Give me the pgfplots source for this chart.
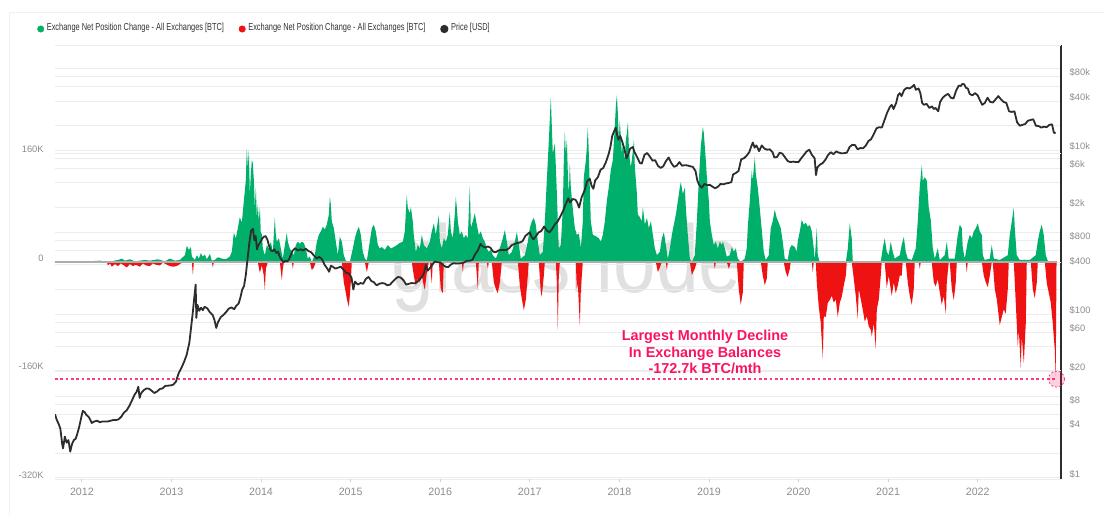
\documentclass[border=0pt]{standalone}
\usepackage{pgfplots}
\pgfplotsset{compat=1.18}
\usepackage{fontspec}
\setmainfont{Liberation Sans}
\newfontfamily\legfont[FakeStretch=0.73]{Liberation Sans}
\definecolor{gngreen}{RGB}{0,176,106}
\definecolor{gnred}{RGB}{238,18,18}
\definecolor{annot}{RGB}{250,20,95}
\definecolor{annotl}{RGB}{250,60,120}
\definecolor{pricec}{RGB}{45,45,45}
\definecolor{gridc}{RGB}{236,236,236}
\definecolor{tickc}{RGB}{140,140,140}
\definecolor{legc}{RGB}{50,50,50}
\definecolor{wmark}{RGB}{224,224,224}
\begin{document}
\begin{tikzpicture}
\path[use as bounding box] (0,0) rectangle (828pt,386.25pt);
\draw[color=gray!12, line width=0.75pt] (6.75pt,0) -- (6.75pt,376.5pt) -- (828pt,376.5pt);
\node[anchor=base, text=wmark, inner sep=0pt] at (425pt,167.25pt) {\scalebox{0.8}[1]{\fontsize{72}{72}\selectfont glassnode}};

% Right price axis: grid and labels
\begin{axis}[
  at={(41.25pt,27pt)}, anchor=south west, scale only axis,
  width=754.5pt, height=325.5pt,
  xmin=2011.70, xmax=2022.93, ymode=log, ymin=0.972, ymax=193600,
  axis x line=none, axis y line*=right,
  y axis line style={draw=pricec, line width=1.1pt},
  ytick={1,2,4,6,8,10,20,40,60,80,100,200,400,600,800,1000,2000,4000,6000,8000,10000,20000,40000,60000,80000,100000},
  yticklabels={\$1,,\$4,,\$8,,\$20,,\$60,,\$100,,\$400,,\$800,,\$2k,,\$6k,,\$10k,,\$40k,,\$80k,},
  ymajorgrids, major grid style={draw=gridc, line width=0.75pt},
  ytick style={draw=none}, minor tick length=0pt, major tick length=0pt,
  yticklabel style={font=\fontsize{7}{8}\selectfont, text=tickc, anchor=west, xshift=3pt, yshift=3pt},
]
\addplot[draw=none] coordinates {(2012,10)};
\end{axis}

% Left axis: net position change
\begin{axis}[
  at={(41.25pt,27pt)}, anchor=south west, scale only axis,
  width=754.5pt, height=325.5pt,
  xmin=2011.70, xmax=2022.93, ymin=-320, ymax=320,
  axis line style={draw=none},
  ytick={-320,-160,0,160,320}, yticklabels={-320K,-160K,0,160K,{}},
  xtick={2012,2013,2014,2015,2016,2017,2018,2019,2020,2021,2022},
  xticklabels={2012,2013,2014,2015,2016,2017,2018,2019,2020,2021,2022},
  xtick pos=bottom, ytick pos=left,
  ymajorgrids, major grid style={draw=gridc, line width=0.75pt},
  ytick style={draw=none},
  xtick style={draw=gray!35, line width=0.6pt}, tick align=outside, major tick length=2.5pt,
  yticklabel style={font=\fontsize{7}{8}\selectfont, text=tickc, xshift=-2.5pt, yshift=3pt},
  xticklabel style={font=\fontsize{8}{9}\selectfont, text=tickc, yshift=-1pt},
  clip=false,
]
\addplot[fill=gngreen, draw=none] table {
x y
2011.699 1
2011.866 0.5
2012.089 1
2012.201 2
2012.290 0
2012.402 3
2012.447 5
2012.480 2
2012.536 4
2012.592 1
2012.703 3
2012.759 2
2012.848 4
2012.927 1
2012.982 5
2013.038 2
2013.094 3
2013.150 10
2013.172 24
2013.194 18
2013.217 22
2013.228 8
2013.261 3
2013.284 10
2013.306 5
2013.328 13
2013.350 8
2013.373 11
2013.395 4
2013.429 12
2013.451 2
2013.484 3
2013.518 7
2013.562 5
2013.607 4
2013.652 8
2013.674 15
2013.696 43
2013.719 35
2013.741 50
2013.763 66
2013.786 58
2013.808 90
2013.830 120
2013.841 167
2013.853 140
2013.864 165
2013.875 100
2013.886 130
2013.897 150
2013.908 146
2013.920 120
2013.931 80
2013.942 110
2013.953 66
2013.964 85
2013.975 60
2013.987 81
2013.998 40
2014.009 43
2014.020 20
2014.042 10
2014.065 25
2014.087 20
2014.109 30
2014.132 15
2014.154 66
2014.165 40
2014.176 30
2014.199 35
2014.221 20
2014.243 5
2014.266 25
2014.288 43
2014.299 30
2014.321 20
2014.344 15
2014.366 10
2014.388 25
2014.411 30
2014.433 27
2014.455 30
2014.478 28
2014.500 20
2014.522 5
2014.545 8
2014.567 0
2014.600 10
2014.623 30
2014.645 40
2014.667 45
2014.690 52
2014.712 48
2014.734 55
2014.757 70
2014.768 96
2014.779 85
2014.790 60
2014.812 50
2014.835 30
2014.857 10
2014.879 37
2014.902 30
2014.924 10
2014.946 2
2014.991 0
2015.025 20
2015.047 35
2015.069 45
2015.092 52
2015.114 40
2015.136 15
2015.159 5
2015.181 2
2015.214 30
2015.237 50
2015.259 55
2015.281 45
2015.304 25
2015.326 20
2015.348 22
2015.382 18
2015.415 25
2015.449 20
2015.482 22
2015.516 25
2015.549 28
2015.583 30
2015.605 45
2015.627 99
2015.638 80
2015.661 72
2015.672 81
2015.694 60
2015.705 40
2015.728 15
2015.750 25
2015.772 20
2015.795 40
2015.817 25
2015.851 20
2015.884 30
2015.906 45
2015.929 57
2015.951 40
2015.962 50
2015.985 69
2015.996 30
2016.018 20
2016.040 35
2016.063 30
2016.085 40
2016.107 74
2016.119 45
2016.141 35
2016.163 70
2016.174 96
2016.186 80
2016.197 60
2016.219 40
2016.241 45
2016.264 35
2016.286 40
2016.308 35
2016.331 113
2016.342 50
2016.364 60
2016.386 72
2016.409 55
2016.431 40
2016.453 45
2016.476 35
2016.498 30
2016.520 20
2016.543 15
2016.565 18
2016.587 10
2016.621 5
2016.666 20
2016.699 35
2016.721 47
2016.744 30
2016.766 10
2016.800 15
2016.833 30
2016.856 44
2016.878 25
2016.900 5
2016.945 10
2016.978 30
2017.000 50
2017.023 60
2017.045 65
2017.067 55
2017.090 30
2017.112 10
2017.146 15
2017.168 60
2017.190 120
2017.213 180
2017.235 243
2017.246 200
2017.257 160
2017.280 175
2017.291 140
2017.302 102
2017.313 60
2017.324 20
2017.347 25
2017.369 80
2017.380 150
2017.391 192
2017.402 160
2017.414 180
2017.425 130
2017.436 100
2017.447 146
2017.458 110
2017.481 77
2017.503 50
2017.525 40
2017.548 42
2017.570 20
2017.592 60
2017.603 125
2017.626 150
2017.637 170
2017.648 199
2017.659 160
2017.670 110
2017.681 60
2017.704 40
2017.737 38
2017.771 35
2017.793 30
2017.815 40
2017.838 60
2017.860 90
2017.882 110
2017.905 136
2017.927 150
2017.949 200
2017.961 230
2017.972 246
2017.983 220
2017.994 180
2018.005 209
2018.016 185
2018.028 160
2018.039 175
2018.061 150
2018.072 180
2018.084 190
2018.095 206
2018.106 170
2018.117 150
2018.128 140
2018.139 150
2018.151 165
2018.162 180
2018.173 140
2018.195 102
2018.206 70
2018.229 66
2018.251 60
2018.262 81
2018.285 55
2018.307 65
2018.329 50
2018.352 60
2018.374 40
2018.396 20
2018.419 10
2018.452 15
2018.474 35
2018.497 44
2018.519 25
2018.541 5
2018.564 20
2018.586 40
2018.608 55
2018.631 70
2018.653 90
2018.675 110
2018.686 118
2018.709 100
2018.731 110
2018.742 80
2018.764 40
2018.787 5
2018.809 0
2018.842 10
2018.865 60
2018.887 120
2018.909 170
2018.932 199
2018.943 190
2018.965 150
2018.977 125
2018.999 90
2019.010 60
2019.032 40
2019.054 25
2019.077 30
2019.099 20
2019.121 30
2019.144 25
2019.155 30
2019.177 20
2019.199 8
2019.233 10
2019.255 22
2019.277 15
2019.300 20
2019.322 5
2019.355 0
2019.400 5
2019.422 20
2019.434 52
2019.456 90
2019.478 135
2019.489 120
2019.512 155
2019.523 130
2019.545 110
2019.567 80
2019.590 47
2019.612 15
2019.634 3
2019.668 10
2019.690 50
2019.712 60
2019.734 77
2019.757 65
2019.779 58
2019.801 50
2019.824 30
2019.846 5
2019.879 3
2019.902 20
2019.924 25
2019.958 22
2019.980 15
2019.991 30
2020.014 45
2020.036 62
2020.059 55
2020.081 58
2020.103 52
2020.126 55
2020.148 45
2020.170 20
2020.181 3
2020.204 50
2020.215 10
2020.237 0
2020.528 0
2020.550 20
2020.572 57
2020.594 35
2020.606 0
2020.918 0
2020.940 20
2020.962 35
2020.985 15
2021.007 10
2021.029 30
2021.052 15
2021.074 5
2021.130 10
2021.152 25
2021.175 37
2021.197 15
2021.219 5
2021.264 3
2021.309 20
2021.331 60
2021.353 110
2021.376 143
2021.387 120
2021.409 125
2021.432 120
2021.454 80
2021.476 62
2021.499 20
2021.521 5
2021.554 20
2021.577 3
2021.632 10
2021.655 30
2021.677 5
2021.744 5
2021.778 40
2021.800 55
2021.822 50
2021.834 20
2021.856 5
2021.889 30
2021.912 40
2021.934 35
2021.956 45
2021.979 50
2022.001 57
2022.023 45
2022.046 40
2022.057 10
2022.079 3
2022.135 5
2022.157 25
2022.180 5
2022.246 3
2022.336 10
2022.358 40
2022.381 60
2022.403 80
2022.414 50
2022.436 10
2022.470 3
2022.581 3
2022.648 10
2022.670 30
2022.692 45
2022.715 55
2022.737 40
2022.760 10
2022.782 2
2022.804 0
2022.880 0
} \closedcycle;
\addplot[fill=gnred, draw=none] table {
x y
2011.699 0
2012.280 0
2012.290 -5
2012.313 -2
2012.335 -7
2012.368 -3
2012.402 -6
2012.435 -2
2012.469 -5
2012.502 -8
2012.536 -3
2012.569 -6
2012.603 -4
2012.647 -7
2012.681 -2
2012.714 -5
2012.759 -6
2012.793 -2
2012.826 -4
2012.871 -5
2012.904 -1
2012.937 -3
2012.982 -6
2013.027 -7
2013.071 -5
2013.105 -2
2013.138 0
2013.228 0
2013.239 -19
2013.250 0
2013.451 0
2013.462 -8
2013.473 0
2013.964 0
2013.987 -16
2014.009 -5
2014.031 -20
2014.042 -41
2014.054 -10
2014.076 0
2014.210 0
2014.232 -27
2014.243 -10
2014.255 0
2014.344 0
2014.355 -10
2014.366 0
2014.545 0
2014.567 -12
2014.589 -8
2014.612 0
2014.902 0
2014.924 -30
2014.946 -45
2014.958 -55
2014.980 -66
2014.991 -50
2015.002 -30
2015.013 0
2015.159 0
2015.181 -15
2015.203 0
2015.683 0
2015.705 -20
2015.728 -35
2015.750 -25
2015.772 -30
2015.795 -20
2015.817 -35
2015.828 -41
2015.851 -15
2015.873 0
2015.884 0
2015.906 -31
2015.917 0
2015.985 0
2016.007 -40
2016.029 -46
2016.040 0
2016.241 0
2016.253 -15
2016.264 0
2016.398 0
2016.420 -41
2016.431 0
2016.520 0
2016.532 -10
2016.543 0
2016.576 0
2016.599 -30
2016.621 -40
2016.643 -46
2016.666 -30
2016.688 0
2016.867 0
2016.889 -35
2016.912 -55
2016.934 -71
2016.956 -55
2016.978 -20
2016.989 0
2017.101 0
2017.123 -45
2017.134 -51
2017.157 -20
2017.168 0
2017.291 0
2017.302 -30
2017.313 -100
2017.324 -20
2017.336 0
2017.514 0
2017.525 -40
2017.536 -30
2017.559 -94
2017.570 -40
2017.592 0
2018.407 0
2018.430 -15
2018.452 -8
2018.474 0
2018.519 0
2018.530 -12
2018.541 0
2018.787 0
2018.809 -19
2018.842 -10
2018.865 0
2019.054 0
2019.065 -10
2019.077 0
2019.199 0
2019.222 -10
2019.244 0
2019.311 0
2019.333 -40
2019.355 -63
2019.378 -45
2019.389 0
2019.579 0
2019.601 -20
2019.623 -34
2019.645 -25
2019.657 0
2019.835 0
2019.857 -15
2019.879 -22
2019.902 -10
2019.913 0
2020.148 0
2020.159 -15
2020.170 0
2020.193 0
2020.204 -31
2020.226 -66
2020.248 -90
2020.271 -142
2020.282 -80
2020.304 -81
2020.327 -60
2020.349 -56
2020.371 -50
2020.394 -60
2020.416 -55
2020.438 -81
2020.461 -60
2020.483 -51
2020.505 -35
2020.528 -20
2020.539 0
2020.594 0
2020.617 -25
2020.639 -50
2020.661 -83
2020.673 -40
2020.695 -55
2020.717 -70
2020.740 -88
2020.762 -80
2020.784 -95
2020.807 -100
2020.818 -110
2020.840 -90
2020.862 -127
2020.874 -70
2020.896 -55
2020.918 -20
2020.929 0
2020.962 0
2020.985 -38
2021.007 -20
2021.029 -40
2021.041 -50
2021.063 -30
2021.085 -46
2021.108 -35
2021.130 -20
2021.152 -20
2021.163 0
2021.197 0
2021.219 -30
2021.242 -50
2021.264 -63
2021.286 -40
2021.297 0
2021.342 0
2021.353 -10
2021.365 0
2021.487 0
2021.510 -30
2021.532 -36
2021.554 -25
2021.577 -45
2021.599 -63
2021.621 -50
2021.644 -76
2021.655 -30
2021.677 0
2021.688 0
2021.711 -40
2021.733 -56
2021.755 -30
2021.767 0
2021.867 0
2021.878 -15
2021.889 0
2022.046 0
2022.068 -20
2022.090 -30
2022.113 -37
2022.135 -20
2022.157 0
2022.168 0
2022.191 -40
2022.213 -55
2022.235 -80
2022.246 -93
2022.269 -81
2022.291 -70
2022.313 -76
2022.336 -40
2022.347 0
2022.403 0
2022.425 -60
2022.448 -125
2022.459 -100
2022.481 -156
2022.492 -110
2022.515 -149
2022.537 -90
2022.548 0
2022.593 0
2022.615 -40
2022.637 -53
2022.660 -30
2022.671 0
2022.749 0
2022.771 -31
2022.793 -45
2022.816 -60
2022.827 -76
2022.838 -90
2022.849 -110
2022.860 -128
2022.871 -168
2022.880 0
} \closedcycle;
\addplot[draw=gray!65, line width=0.9pt] coordinates {(2011.70,0) (2022.89,0)};
\draw[draw=annotl, line width=1.1pt, dash pattern=on 2pt off 2pt] (axis cs:2011.70,-172.7) -- (axis cs:2022.88,-172.7);
\addplot[only marks, mark=*, mark size=6pt, mark options={fill=annot, fill opacity=0.2, draw=annotl, line width=0.6pt, dash pattern=on 1.5pt off 1.5pt}] coordinates {(2022.88,-172.7)};
\end{axis}

% Price line
\begin{axis}[
  at={(41.25pt,27pt)}, anchor=south west, scale only axis,
  width=754.5pt, height=325.5pt,
  xmin=2011.70, xmax=2022.93, ymode=log, ymin=0.972, ymax=193600,
  hide axis,
  legend columns=3,
  legend style={at={(-0.0179,1.0392)}, anchor=west, draw=none, fill=none, inner sep=0pt,
    font=\legfont\fontsize{7.6}{8.5}\selectfont, text=legc,
    /tikz/every even column/.append style={column sep=9pt}},
  legend cell align=left,
]
\addlegendimage{legend image code/.code={\fill[gngreen] (2.25pt,0) circle (2.4pt);}}
\addlegendentry{Exchange Net Position Change - All Exchanges [BTC]}
\addlegendimage{legend image code/.code={\fill[gnred] (2.25pt,0) circle (2.4pt);}}
\addlegendentry{Exchange Net Position Change - All Exchanges [BTC]}
\addplot[draw=pricec, line width=1.35pt, line join=round,
  legend image code/.code={\fill[pricec] (2.25pt,0) circle (2.4pt);}] table {
x y
2011.700 6.0
2011.720 5.1
2011.740 4.6
2011.760 4.0
2011.780 2.6
2011.790 2.3
2011.810 3.2
2011.830 2.7
2011.850 2.9
2011.870 2.1
2011.890 2.6
2011.910 2.9
2011.930 3.0
2011.950 3.5
2011.970 4.2
2011.990 5.3
2012.010 6.6
2012.030 6.4
2012.050 5.9
2012.080 5.5
2012.110 4.7
2012.140 4.9
2012.170 5.0
2012.200 4.8
2012.230 4.9
2012.260 4.9
2012.290 4.9
2012.320 5.0
2012.350 5.1
2012.380 5.1
2012.410 5.2
2012.440 5.6
2012.470 6.3
2012.500 6.7
2012.530 7.6
2012.560 8.9
2012.590 10.5
2012.610 11.2
2012.630 13.0
2012.645 9.5
2012.660 10.8
2012.690 11.8
2012.720 12.4
2012.750 12.3
2012.780 11.6
2012.810 10.9
2012.840 11.4
2012.870 12.2
2012.900 12.4
2012.930 13.3
2012.960 13.4
2012.990 13.5
2013.020 13.8
2013.050 15.0
2013.080 19.0
2013.110 22.0
2013.140 26.0
2013.170 32.0
2013.200 45.0
2013.220 70.0
2013.240 110
2013.255 160
2013.270 230
2013.278 90
2013.290 130
2013.310 110
2013.330 120
2013.350 112
2013.370 123
2013.400 118
2013.430 105
2013.460 98
2013.480 85
2013.500 68
2013.520 80
2013.550 92
2013.580 98
2013.610 106
2013.640 117
2013.670 121
2013.700 115
2013.720 125
2013.750 135
2013.770 160
2013.790 200
2013.810 220
2013.830 300
2013.850 480
2013.870 750
2013.890 1050
2013.910 1100
2013.925 800
2013.940 900
2013.955 620
2013.970 700
2013.990 750
2014.010 830
2014.030 880
2014.050 900
2014.070 820
2014.090 680
2014.110 600
2014.130 590
2014.150 620
2014.170 560
2014.190 580
2014.210 500
2014.230 460
2014.250 430
2014.270 450
2014.290 440
2014.310 460
2014.330 520
2014.350 590
2014.380 640
2014.410 600
2014.440 620
2014.470 600
2014.500 630
2014.530 590
2014.560 570
2014.590 520
2014.620 480
2014.650 500
2014.680 470
2014.710 400
2014.740 360
2014.760 330
2014.780 390
2014.800 380
2014.830 360
2014.860 370
2014.890 380
2014.920 350
2014.950 320
2014.980 315
2015.010 280
2015.030 200
2015.050 250
2015.080 230
2015.110 240
2015.140 235
2015.170 270
2015.200 285
2015.230 255
2015.260 245
2015.290 225
2015.320 235
2015.350 240
2015.380 237
2015.410 225
2015.440 230
2015.470 250
2015.500 270
2015.530 285
2015.560 280
2015.590 260
2015.620 230
2015.650 235
2015.680 240
2015.710 238
2015.740 245
2015.770 265
2015.800 290
2015.820 320
2015.840 400
2015.860 340
2015.880 360
2015.910 400
2015.940 440
2015.970 430
2016.000 430
2016.030 400
2016.060 380
2016.090 375
2016.120 405
2016.150 420
2016.180 415
2016.210 416
2016.240 420
2016.270 430
2016.300 450
2016.330 450
2016.360 460
2016.390 540
2016.420 600
2016.450 720
2016.470 680
2016.500 650
2016.530 670
2016.560 650
2016.590 580
2016.620 570
2016.650 600
2016.680 610
2016.710 605
2016.740 610
2016.770 640
2016.800 700
2016.830 720
2016.860 740
2016.890 750
2016.920 780
2016.950 900
2016.980 960
2017.000 1000
2017.020 880
2017.040 820
2017.070 900
2017.100 1000
2017.130 1040
2017.160 1180
2017.190 1050
2017.220 1000
2017.250 1100
2017.280 1250
2017.310 1350
2017.340 1550
2017.370 1800
2017.400 2200
2017.430 2600
2017.450 2300
2017.480 2550
2017.510 2500
2017.530 2300
2017.550 2000
2017.580 2700
2017.610 3200
2017.640 4200
2017.670 4500
2017.690 3700
2017.710 3400
2017.730 4300
2017.760 4700
2017.790 5800
2017.820 6100
2017.850 7200
2017.880 9000
2017.900 11000
2017.920 15000
2017.940 17000
2017.960 19000
2017.975 15500
2017.990 13500
2018.010 15000
2018.030 13000
2018.050 11000
2018.080 8000
2018.100 9000
2018.120 10500
2018.150 11000
2018.170 9500
2018.200 8200
2018.230 7000
2018.250 6900
2018.280 8800
2018.310 9300
2018.340 8400
2018.370 7500
2018.400 7600
2018.430 6500
2018.460 6100
2018.490 6400
2018.520 7400
2018.550 8200
2018.580 7000
2018.610 6300
2018.640 6500
2018.670 7200
2018.700 6500
2018.730 6600
2018.760 6550
2018.790 6400
2018.820 6300
2018.850 5600
2018.870 4300
2018.890 3800
2018.920 3500
2018.950 3900
2018.980 3750
2019.010 3800
2019.040 3600
2019.070 3450
2019.100 3600
2019.130 3900
2019.160 3850
2019.190 3950
2019.220 4000
2019.250 4100
2019.270 5100
2019.300 5300
2019.330 5600
2019.360 7800
2019.390 8000
2019.420 8600
2019.450 9500
2019.470 11000
2019.490 12500
2019.510 10800
2019.530 11500
2019.560 9800
2019.590 11500
2019.620 10500
2019.650 10200
2019.680 10300
2019.710 9500
2019.730 8200
2019.760 8300
2019.790 9400
2019.820 9100
2019.850 8200
2019.880 7400
2019.910 7200
2019.940 7300
2019.970 7200
2020.000 7200
2020.030 8000
2020.060 8800
2020.090 9700
2020.120 10200
2020.150 8800
2020.180 8000
2020.195 5000
2020.210 6200
2020.240 6700
2020.270 7000
2020.300 7700
2020.330 8800
2020.360 9500
2020.390 9000
2020.420 9700
2020.450 9400
2020.480 9200
2020.510 9250
2020.540 9400
2020.570 11000
2020.600 11700
2020.630 11600
2020.660 10300
2020.690 10700
2020.720 10600
2020.750 11400
2020.780 13000
2020.810 13700
2020.840 15800
2020.870 18600
2020.900 19200
2020.930 19000
2020.960 23500
2020.990 29000
2021.020 34000
2021.040 36000
2021.060 32000
2021.090 38000
2021.110 47000
2021.130 50000
2021.150 46000
2021.180 55000
2021.210 58000
2021.240 57000
2021.270 60000
2021.290 63000
2021.310 55000
2021.340 57000
2021.360 50000
2021.380 38000
2021.400 36000
2021.430 37000
2021.460 33000
2021.490 34500
2021.510 32000
2021.530 33000
2021.560 30000
2021.580 39000
2021.610 44000
2021.640 47000
2021.670 49000
2021.700 44000
2021.730 43000
2021.760 54000
2021.790 62000
2021.810 61000
2021.830 65000
2021.850 64000
2021.870 58000
2021.890 57000
2021.910 49000
2021.940 47000
2021.970 50000
2022.000 47000
2022.020 42000
2022.050 36000
2022.080 38000
2022.110 44000
2022.140 39000
2022.170 38500
2022.200 42000
2022.230 46000
2022.260 42000
2022.290 39000
2022.320 38000
2022.350 30000
2022.380 29500
2022.410 30000
2022.440 22000
2022.470 20000
2022.500 20500
2022.530 21000
2022.560 23000
2022.590 23500
2022.620 24000
2022.650 20000
2022.680 19800
2022.710 19000
2022.740 19500
2022.770 19200
2022.800 20500
2022.830 20800
2022.850 16500
2022.870 16200
};
\addlegendentry{Price [USD]}
\end{axis}

\node[align=center, text=annot, font=\bfseries\fontsize{10.8}{12.4}\selectfont] at (528.75pt,122.25pt)
  {Largest Monthly Decline\\In Exchange Balances\\-172.7k BTC/mth};
\end{tikzpicture}
\end{document}
